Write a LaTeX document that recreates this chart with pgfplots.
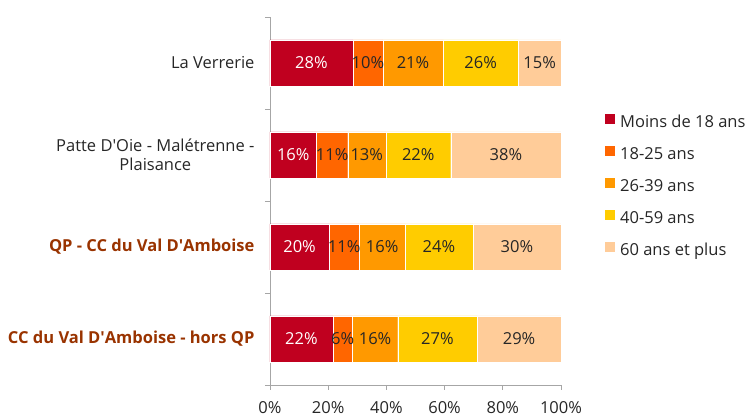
\documentclass[border=0pt]{standalone}
\usepackage{pgfplots}
\pgfplotsset{compat=1.18}
\usepackage{pgfplotstable}
\usepackage{fontspec}
\setmainfont{Open Sans}

\definecolor{cA}{HTML}{C0001F}
\definecolor{cB}{HTML}{FF6600}
\definecolor{cC}{HTML}{FF9900}
\definecolor{cD}{HTML}{FFCC00}
\definecolor{cE}{HTML}{FFCC99}
\definecolor{brn}{HTML}{993300}
\definecolor{txt}{HTML}{262626}
\definecolor{axc}{HTML}{A6A6A6}

% y: 3 = La Verrerie, 2 = Patte D'Oie, 1 = QP, 0 = hors QP
\pgfplotstableread{
y x
3 28.5
2 16.0
1 20.3
0 21.6
}\tA
\pgfplotstableread{
y x
3 10.3
2 10.7
1 10.4
0 6.7
}\tB
\pgfplotstableread{
y x
3 20.7
2 13.1
1 15.7
0 15.6
}\tC
\pgfplotstableread{
y x
3 25.8
2 22.3
1 23.3
0 27.3
}\tD
\pgfplotstableread{
y x
3 14.7
2 37.9
1 30.3
0 28.8
}\tE
% label positions (segment middles) and printed values
\pgfplotstableread{
y xm lab
3 14.25 28
2 8.0 16
1 10.15 20
0 10.8 22
}\labA
\pgfplotstableread{
y xm lab
3 33.65 10
2 21.35 11
1 25.5 11
0 24.95 6
3 49.15 21
2 33.25 13
1 38.55 16
0 36.1 16
3 72.4 26
2 50.95 22
1 58.05 24
0 57.55 27
3 92.65 15
2 81.05 38
1 84.85 30
0 85.6 29
}\labRest

\pgfplotsset{
  frame/.style={
    at={(270pt,32pt)}, anchor=south west,
    scale only axis, width=291pt, height=368pt,
    xmin=0, xmax=100, ymin=-0.5, ymax=3.5,
  },
}

\begin{document}
\begin{tikzpicture}[font=\fontsize{16.5}{19.5}\selectfont]
\begin{axis}[
  frame,
  xbar stacked, bar width=46pt,
  axis lines*=left,
  axis line style={draw=axc, line width=0.8pt},
  tick style={draw=axc, line width=0.8pt},
  tick align=outside, major tick length=5pt,
  xtick={0,20,...,100},
  xticklabel={\pgfmathprintnumber{\tick}\%},
  /pgf/number format/assume math mode=true,
  xticklabel style={text=txt, yshift=-8pt},
  ytick={-0.5,0.5,1.5,2.5,3.5},
  yticklabels={{\textcolor{brn}{\bfseries CC du Val D\textquotesingle Amboise - hors QP}},
               {\textcolor{brn}{\bfseries QP - CC du Val D\textquotesingle Amboise}},
               {Patte D\textquotesingle Oie - Malétrenne -\\Plaisance},
               {La Verrerie}},
  y tick label as interval,
  yticklabel style={text=txt, align=center, xshift=-7pt},
  every axis plot/.append style={draw=white, line width=0.3pt},
  legend style={at={(axis description cs:1.151,0.736)}, anchor=north west,
    draw=none, fill=none, inner sep=0pt, row sep=15pt, column sep=5pt,
    nodes={inner sep=0pt, text height=12pt, text depth=4pt, text=txt}},
  legend cell align=left,
  legend image code/.code={\path[#1, draw=none] (0pt,-1pt) rectangle (10pt,9pt);},
]
\addplot[fill=cA] table[x=x, y=y] {\tA};
\addplot[fill=cB] table[x=x, y=y] {\tB};
\addplot[fill=cC] table[x=x, y=y] {\tC};
\addplot[fill=cD] table[x=x, y=y] {\tD};
\addplot[fill=cE] table[x=x, y=y] {\tE};
\legend{Moins de 18 ans, 18-25 ans, 26-39 ans, 40-59 ans, 60 ans et plus}
\end{axis}
\begin{axis}[
  frame, hide axis,
  every axis plot/.append style={only marks, mark=none,
    point meta=explicit symbolic,
    nodes near coords={\pgfplotspointmeta\%},
    nodes near coords style={anchor=center, inner sep=0pt}},
]
\addplot[nodes near coords style={text=white}] table[x=xm, y=y, meta=lab] {\labA};
\addplot[nodes near coords style={text=txt}] table[x=xm, y=y, meta=lab] {\labRest};
\end{axis}
\pgfresetboundingbox
\path (0pt,0pt) rectangle (745pt,417pt);
\end{tikzpicture}
\end{document}
